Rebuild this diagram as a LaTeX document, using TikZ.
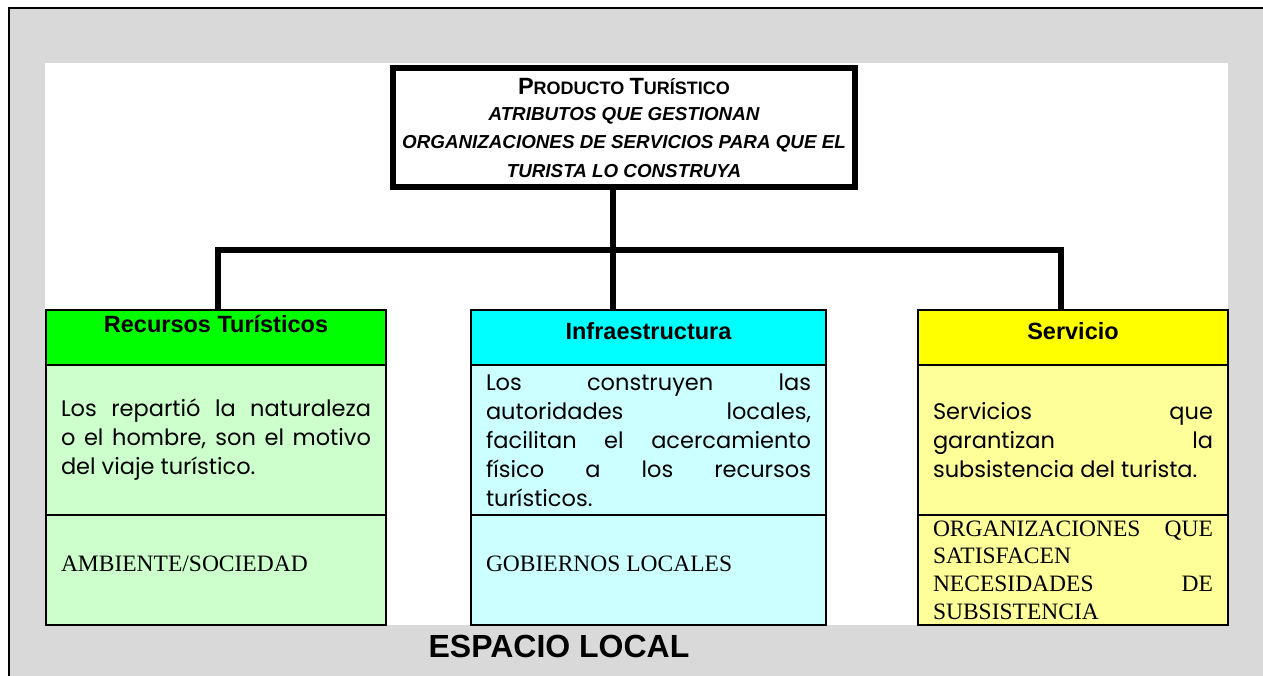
\documentclass[tikz,border=0pt]{standalone}
\usepackage{fontspec}
\setmainfont{Liberation Serif}
\setsansfont{Liberation Sans}
\newfontfamily\gotica{Poppins}
\usetikzlibrary{positioning}
\definecolor{gris}{HTML}{D9D9D9}
\definecolor{verde}{HTML}{00FF00}
\definecolor{verdeclaro}{HTML}{CCFFCC}
\definecolor{cian}{HTML}{00FFFF}
\definecolor{cianclaro}{HTML}{CCFFFF}
\definecolor{amarillo}{HTML}{FFFF00}
\definecolor{amarilloclaro}{HTML}{FFFF99}
\newcommand{\versalita}[2]{{\fontsize{23.5}{28}\selectfont #1}{\fontsize{18}{28}\selectfont #2}}

\begin{document}
\begin{tikzpicture}[x=1pt,y=-1pt,
  celda/.style={draw,line width=2pt,anchor=north west,inner ysep=0pt,inner xsep=15pt,outer sep=0pt},
  cabecera/.style={celda,minimum height=55pt},
  cuerpo/.style={celda,minimum height=150pt,align=justify,font=\gotica\fontsize{22.5}{29}\selectfont},
  pie/.style={celda,minimum height=110pt,align=justify,font=\rmfamily\fontsize{23.5}{27.7}\selectfont},
  titulo/.style={inner sep=0pt,font=\sffamily\bfseries\fontsize{23.5}{28}\selectfont},
  caja/.style={draw,line width=6pt,fill=white,minimum width=462pt,minimum height=119pt,align=center,
    font=\sffamily\bfseries\fontsize{18.8}{28.5}\selectfont},
  conector/.style={line width=6.5pt,line join=miter}]

\useasboundingbox (0,0) rectangle (1263,676);
\fill[gris] (9,8) rectangle (1263,676);
\draw[line width=2.5pt] (9,676) -- (9,8) -- (1263,8);
\fill[white] (45,63) rectangle (1228,625);

\node[caja] (producto) at (624,128) {\versalita{P}{RODUCTO} \versalita{T}{URÍSTICO}\\[-3pt]
  {\itshape ATRIBUTOS QUE GESTIONAN}\\
  {\itshape ORGANIZACIONES DE SERVICIOS PARA QUE EL}\\
  {\itshape TURISTA LO CONSTRUYA}};

\node[cabecera,minimum width=340pt,fill=verde] (recursos) at (46,310) {};
\node[cuerpo,text width=310pt,fill=verdeclaro] (recursosTxt) at (recursos.south west)
  {Los repartió la naturaleza\linebreak o el hombre, son el motivo\linebreak del viaje turístico.};
\node[pie,text width=310pt,fill=verdeclaro] (recursosPie) at (recursosTxt.south west) {AMBIENTE/SOCIEDAD\\[-16pt]};

\node[cabecera,minimum width=355pt,fill=cian] (infra) at (471,310) {};
\node[cuerpo,text width=325pt,fill=cianclaro] (infraTxt) at (infra.south west)
  {Los construyen las\linebreak autoridades locales,\linebreak facilitan el acercamiento\linebreak
   físico a los recursos\linebreak turísticos.};
\node[pie,text width=325pt,fill=cianclaro] (infraPie) at (infraTxt.south west) {GOBIERNOS LOCALES\\[-16pt]};

\node[cabecera,minimum width=310pt,fill=amarillo] (servicio) at (918,310) {};
\node[cuerpo,text width=280pt,fill=amarilloclaro] (servicioTxt) at (servicio.south west)
  {Servicios que\linebreak garantizan la\linebreak subsistencia del turista.};
\node[pie,text width=280pt,fill=amarilloclaro] (servicioPie) at (servicioTxt.south west)
  {ORGANIZACIONES QUE\linebreak SATISFACEN\linebreak NECESIDADES DE\linebreak SUBSISTENCIA};

\node[titulo,below=5pt of recursos.north] (recursosTit) {Recursos Turísticos};
\node[titulo,below=12pt of infra.north] (infraTit) {Infraestructura};
\node[titulo,below=12pt of servicio.north] (servicioTit) {Servicio};

\coordinate (ramaA) at (218,250);
\coordinate (ramaB) at (613,250);
\coordinate (ramaC) at (1061,250);
\draw[conector] (ramaA |- recursos.north) -- (ramaA) -- (ramaC) -- (ramaC |- servicio.north);
\draw[conector] (ramaB |- producto.south) -- (ramaB |- infra.north);

\node[font=\sffamily\bfseries\fontsize{32}{38}\selectfont] (espacio) at (559,646) {ESPACIO LOCAL};
\end{tikzpicture}
\end{document}
